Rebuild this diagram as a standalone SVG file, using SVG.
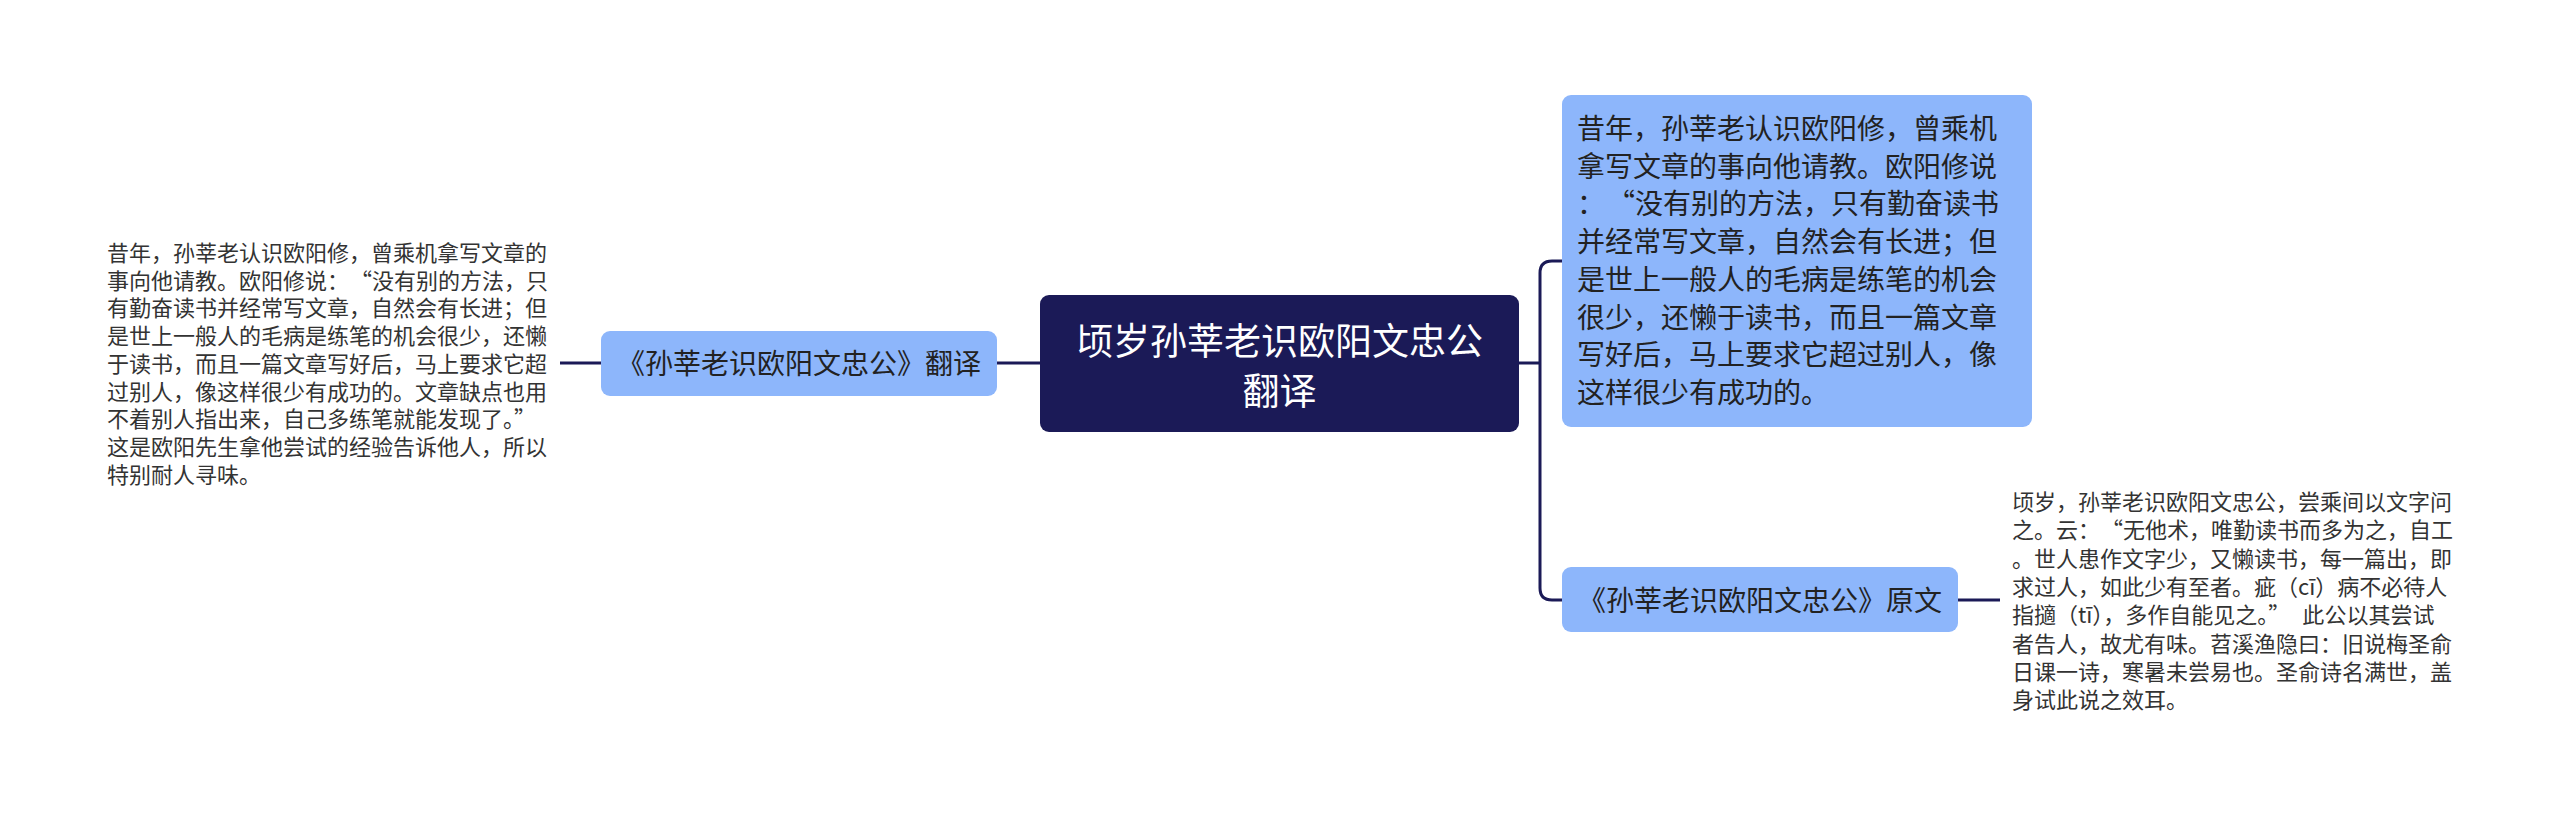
<svg xmlns="http://www.w3.org/2000/svg" width="2560" height="819" viewBox="0 0 2560 819">
<style>
text{font-family:"Noto Sans CJK SC","Microsoft YaHei",sans-serif}
.con{fill:none;stroke:#1b1a57;stroke-width:3}
.sub{fill:#8db6fb}
.lt{font-size:28px;fill:#222}
.pt{font-size:22px;fill:#333}
.ct{font-size:37px;fill:#fff}
</style>
<rect width="2560" height="819" fill="#fff"/>
<g id="connectors">
<path class="con" d="M1040,363 H997"/>
<path class="con" d="M601,363 H560"/>
<path class="con" d="M1519,363 H1540"/>
<path class="con" d="M1562,261 H1552 Q1540,261 1540,273 V588 Q1540,600 1552,600 H1562"/>
<path class="con" d="M1958,600 H2000"/>
</g>
<g id="center">
<rect x="1040" y="295" width="479" height="137" rx="9" fill="#1b1a57"/>
<text class="ct" x="1279.5" y="355" text-anchor="middle">顷岁孙莘老识欧阳文忠公</text>
<text class="ct" x="1279.5" y="405" text-anchor="middle">翻译</text>
</g>
<g id="left-node">
<rect class="sub" x="601" y="331" width="396" height="65" rx="9"/>
<text class="lt" x="799" y="374" text-anchor="middle">《孙莘老识欧阳文忠公》翻译</text>
</g>
<g id="left-text">
<text class="pt" x="107" y="261">昔年，孙莘老认识欧阳修，曾乘机拿写文章的</text>
<text class="pt" x="107" y="288.7">事向他请教。欧阳修说：<tspan dx="12">“</tspan>没有别的方法，只</text>
<text class="pt" x="107" y="316.4">有勤奋读书并经常写文章，自然会有长进；但</text>
<text class="pt" x="107" y="344.1">是世上一般人的毛病是练笔的机会很少，还懒</text>
<text class="pt" x="107" y="371.8">于读书，而且一篇文章写好后，马上要求它超</text>
<text class="pt" x="107" y="399.5">过别人，像这样很少有成功的。文章缺点也用</text>
<text class="pt" x="107" y="427.2">不着别人指出来，自己多练笔就能发现了。”</text>
<text class="pt" x="107" y="454.9">这是欧阳先生拿他尝试的经验告诉他人，所以</text>
<text class="pt" x="107" y="482.6">特别耐人寻味。</text>
</g>
<g id="top-right-node">
<rect class="sub" x="1562" y="95" width="470" height="332" rx="9"/>
<text class="lt" x="1577" y="139">昔年，孙莘老认识欧阳修，曾乘机</text>
<text class="lt" x="1577" y="176.7">拿写文章的事向他请教。欧阳修说</text>
<text class="lt" x="1577" y="214.4">：<tspan dx="16">“</tspan>没有别的方法，只有勤奋读书</text>
<text class="lt" x="1577" y="252.1">并经常写文章，自然会有长进；但</text>
<text class="lt" x="1577" y="289.8">是世上一般人的毛病是练笔的机会</text>
<text class="lt" x="1577" y="327.5">很少，还懒于读书，而且一篇文章</text>
<text class="lt" x="1577" y="365.2">写好后，马上要求它超过别人，像</text>
<text class="lt" x="1577" y="402.9">这样很少有成功的。</text>
</g>
<g id="bottom-right-node">
<rect class="sub" x="1562" y="567" width="396" height="65" rx="9"/>
<text class="lt" x="1760" y="611" text-anchor="middle">《孙莘老识欧阳文忠公》原文</text>
</g>
<g id="right-text">
<text class="pt" x="2012" y="510">顷岁，孙莘老识欧阳文忠公，尝乘间以文字问</text>
<text class="pt" x="2012" y="538.3">之。云：<tspan dx="12">“</tspan>无他术，唯勤读书而多为之，自工</text>
<text class="pt" x="2012" y="566.6">。世人患作文字少，又懒读书，每一篇出，即</text>
<text class="pt" x="2012" y="594.9">求过人，如此少有至者。疵（cī）病不必待人</text>
<text class="pt" x="2012" y="623.2">指擿（tī），多作自能见之。”<tspan dx="12">此</tspan>公以其尝试</text>
<text class="pt" x="2012" y="651.5">者告人，故尤有味。苕溪渔隐曰：旧说梅圣俞</text>
<text class="pt" x="2012" y="679.8">日课一诗，寒暑未尝易也。圣俞诗名满世，盖</text>
<text class="pt" x="2012" y="708.1">身试此说之效耳。</text>
</g>
</svg>
